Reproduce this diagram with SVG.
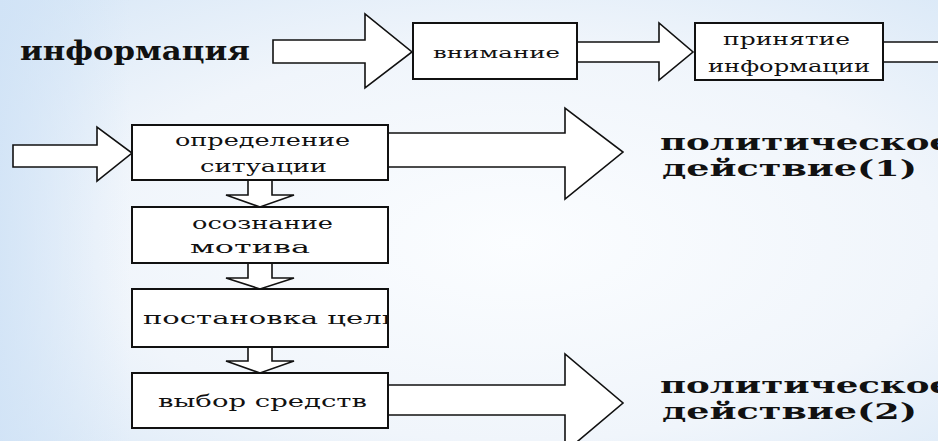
<svg xmlns="http://www.w3.org/2000/svg" width="938" height="441" viewBox="0 0 938 441">
<defs>
<radialGradient id="bg" cx="0.55" cy="0.55" r="0.75">
<stop offset="0" stop-color="#fbfdff"/>
<stop offset="0.6" stop-color="#f0f5fb"/>
<stop offset="1" stop-color="#d9e8f7"/>
</radialGradient>
<linearGradient id="lb" x1="0" y1="0" x2="1" y2="0">
<stop offset="0" stop-color="#cfe2f6" stop-opacity="0.8"/>
<stop offset="1" stop-color="#cfe2f6" stop-opacity="0"/>
</linearGradient>
<style>
.box{fill:#fff;stroke:#111;stroke-width:2}
.arr{fill:#fff;stroke:#111;stroke-width:1.6;stroke-linejoin:miter}
.t{fill:#111}
.b{font-weight:bold}
</style>
</defs>
<rect width="938" height="441" fill="url(#bg)"/>
<rect width="130" height="441" fill="url(#lb)"/>
<g id="connectors">
<polygon class="arr" points="273,40 365,40 365,14 412,52 365,88 365,63 273,63"/>
<polygon class="arr" points="577,42 659,42 659,23 693,52 659,80 659,62 577,62"/>
<polygon class="arr" points="883,42 950,42 950,62 883,62"/>
<polygon class="arr" points="13,145 97,145 97,127 132,153 97,181 97,167 13,167"/>
<polygon class="arr" points="388,133 565,133 565,108 623,152 565,199 565,167 388,167"/>
<polygon class="arr" points="248,180 248,195 226,195 260,207 294,195 272,195 272,180"/>
<polygon class="arr" points="248,263 248,278 226,278 260,289 294,278 272,278 272,263"/>
<polygon class="arr" points="248,347 248,361 226,361 260,373 294,361 272,361 272,347"/>
<polygon class="arr" points="388,385 565,385 565,354 623,403 565,452 565,415 388,415"/>
</g>
<g font-family="'DejaVu Serif', 'Liberation Serif', serif">
<g id="n-info">
<text class="t b" x="20" y="60" font-size="26" textLength="230" lengthAdjust="spacingAndGlyphs">информация</text>
</g>
<g id="n-attention">
<rect class="box" x="413" y="23" width="164" height="56"/>
<text class="t" x="433" y="58" font-size="15" textLength="127" lengthAdjust="spacingAndGlyphs">внимание</text>
</g>
<g id="n-accept">
<rect class="box" x="695" y="23" width="188" height="57"/>
<text class="t" x="723" y="45" font-size="16" textLength="127" lengthAdjust="spacingAndGlyphs">принятие</text>
<text class="t" x="708" y="72" font-size="16" textLength="162" lengthAdjust="spacingAndGlyphs">информации</text>
</g>
<g id="n-define">
<rect class="box" x="132" y="125" width="256" height="55"/>
<text class="t" x="175" y="146" font-size="17" textLength="175" lengthAdjust="spacingAndGlyphs">определение</text>
<text class="t" x="200" y="172" font-size="17" textLength="127" lengthAdjust="spacingAndGlyphs">ситуации</text>
</g>
<g id="n-motive">
<rect class="box" x="132" y="207" width="256" height="56"/>
<text class="t" x="192" y="229" font-size="17" textLength="141" lengthAdjust="spacingAndGlyphs">осознание</text>
<text class="t" x="190" y="253" font-size="17" textLength="120" lengthAdjust="spacingAndGlyphs">мотива</text>
</g>
<g id="n-goal">
<rect class="box" x="132" y="289" width="256" height="58"/>
<svg x="133" y="290" width="254" height="56" overflow="hidden">
<text class="t" x="10" y="34" font-size="17" textLength="258" lengthAdjust="spacingAndGlyphs">постановка цели</text>
</svg>
</g>
<g id="n-means">
<rect class="box" x="132" y="373" width="256" height="55"/>
<text class="t" x="158" y="407" font-size="17" textLength="209" lengthAdjust="spacingAndGlyphs">выбор средств</text>
</g>
<g id="n-action1">
<text class="t b" x="660" y="150" font-size="22" textLength="292" lengthAdjust="spacingAndGlyphs">политическое</text>
<text class="t b" x="662" y="176" font-size="22" textLength="255" lengthAdjust="spacingAndGlyphs">действие(1)</text>
</g>
<g id="n-action2">
<text class="t b" x="660" y="393" font-size="22" textLength="292" lengthAdjust="spacingAndGlyphs">политическое</text>
<text class="t b" x="662" y="419" font-size="22" textLength="255" lengthAdjust="spacingAndGlyphs">действие(2)</text>
</g>
</g>
</svg>
